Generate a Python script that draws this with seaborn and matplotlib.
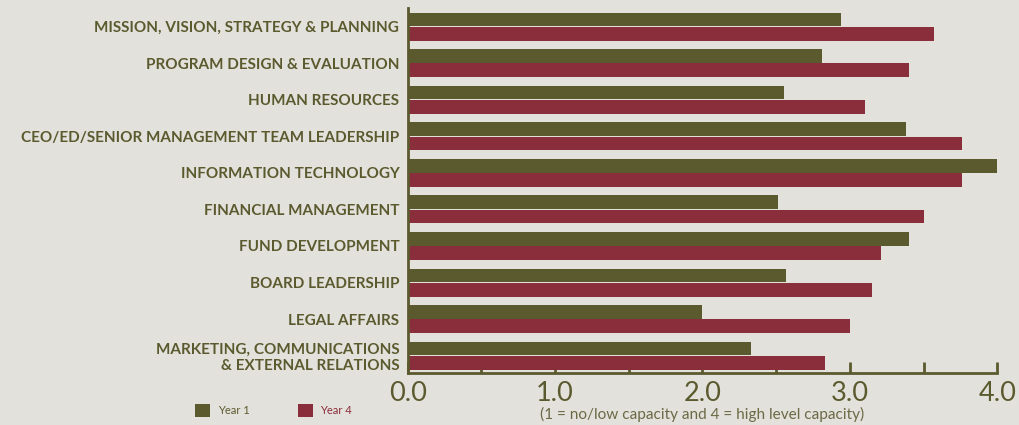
import matplotlib
matplotlib.use("Agg")
import matplotlib.pyplot as plt
import seaborn as sns
import pandas as pd
from matplotlib.ticker import MultipleLocator

categories = [
    "MISSION, VISION, STRATEGY & PLANNING",
    "PROGRAM DESIGN & EVALUATION",
    "HUMAN RESOURCES",
    "CEO/ED/SENIOR MANAGEMENT TEAM LEADERSHIP",
    "INFORMATION TECHNOLOGY",
    "FINANCIAL MANAGEMENT",
    "FUND DEVELOPMENT",
    "BOARD LEADERSHIP",
    "LEGAL AFFAIRS",
    "MARKETING, COMMUNICATIONS\n& EXTERNAL RELATIONS",
]
year1 = [2.94, 2.81, 2.55, 3.38, 4.00, 2.51, 3.40, 2.57, 2.00, 2.33]
year4 = [3.57, 3.40, 3.10, 3.76, 3.76, 3.50, 3.21, 3.15, 3.00, 2.83]
series_names = ["Year 1", "Year 4"]
xticks = [0.0, 1.0, 2.0, 3.0, 4.0]
xtick_labels = ["0.0", "1.0", "2.0", "3.0", "4.0"]
note = "(1 = no/low capacity and 4 = high level capacity)"

OLIVE = "#5b5a2e"
RED = "#8a2e3b"
BG = "#e3e1dc"

df = pd.DataFrame({
    "category": categories * 2,
    "year": [series_names[0]] * len(categories) + [series_names[1]] * len(categories),
    "value": year1 + year4,
})

sns.set_theme(style="white")
plt.rcParams["font.family"] = ["Lato", "DejaVu Sans"]

fig = plt.figure(figsize=(10.19, 4.25), dpi=100, facecolor=BG)
ax = fig.add_axes([0.400, 0.1235, 0.5787, 0.857])
ax.set_facecolor(BG)

sns.barplot(data=df, y="category", x="value", hue="year", order=categories,
            hue_order=series_names, palette=[OLIVE, RED], orient="h",
            width=0.78, gap=0.04, saturation=1, ax=ax, linewidth=0)

ax.set_xlim(0, 4)
ax.set_ylim(9.46, -0.5)
ax.set_xlabel("")
ax.set_ylabel("")

for s in ["top", "right"]:
    ax.spines[s].set_visible(False)
for s in ["left", "bottom"]:
    ax.spines[s].set_color(OLIVE)
    ax.spines[s].set_linewidth(2)

ax.set_xticks(xticks)
ax.set_xticklabels(xtick_labels)
ax.xaxis.set_minor_locator(MultipleLocator(0.5))
ax.tick_params(axis="x", which="both", bottom=True, direction="in", length=8, width=2,
               color=OLIVE, labelcolor=OLIVE, labelsize=19.5, pad=6)
ax.tick_params(axis="y", length=0, pad=6, labelcolor=OLIVE, labelsize=11)
for t in ax.get_yticklabels():
    t.set_fontweight("bold")
    t.set_horizontalalignment("right")
    t.set_multialignment("right")

handles, labels = ax.get_legend_handles_labels()
if ax.get_legend() is not None:
    ax.get_legend().remove()
fig.legend(handles, labels, loc="center left", bbox_to_anchor=(0.182, 0.034),
           ncol=2, frameon=False, fontsize=8, handlelength=1.3, handleheight=1.3,
           handletextpad=0.7, columnspacing=4.4, labelcolor=[OLIVE, RED])

fig.text(0.689, 0.024, note, ha="center", va="center", fontsize=11.1,
         color="#6b6a45")

fig.savefig("out.png", dpi=100, facecolor=BG)
